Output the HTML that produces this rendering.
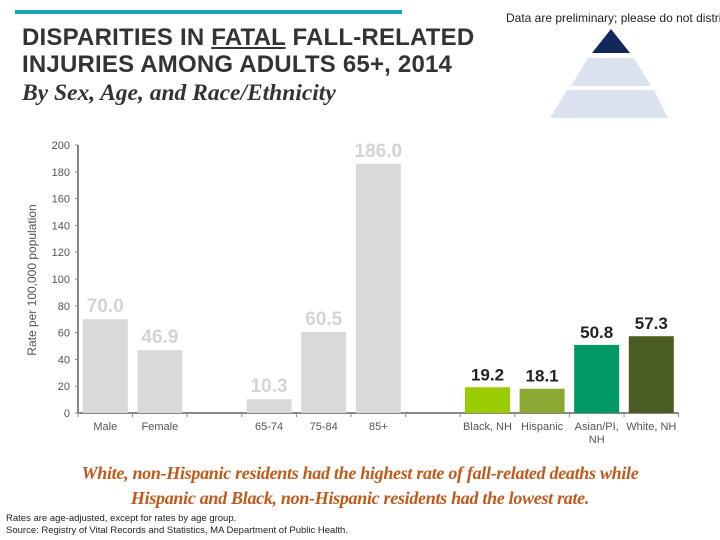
<!DOCTYPE html>
<html><head><meta charset="utf-8"><style>
body{margin:0;width:720px;height:540px;background:#fff;overflow:hidden;position:relative;font-family:"Liberation Sans",sans-serif}
.a{position:absolute}
</style></head><body>
<div class="a" style="left:15px;top:10px;width:387px;height:4px;background:#1aa3b8"></div>
<div class="a" style="left:22px;top:24px;font-size:24px;font-weight:bold;letter-spacing:0.2px;line-height:27px;color:#333;white-space:nowrap">DISPARITIES IN <u>FATAL</u> FALL-RELATED<br>INJURIES AMONG ADULTS 65+, 2014</div>
<div class="a" style="left:22px;top:80px;font-size:23.5px;font-weight:bold;font-family:'Liberation Serif',serif;font-style:italic;color:#333;white-space:nowrap">By Sex, Age, and Race/Ethnicity</div>
<div class="a" style="left:506px;top:11px;font-size:12px;color:#222;white-space:nowrap">Data are preliminary; please do not distri</div>
<svg class="a" style="left:0;top:0" width="720" height="540">
<polygon points="611,29 592,53 630,53" fill="#13285a"/>
<polygon points="588,58 634,58 651,86 571,86" fill="#dbe3ef"/>
<polygon points="567,90 654,90 668,118 550,118" fill="#dbe3ef"/>
</svg>
<svg id="chart" class="a" style="left:0;top:0" width="720" height="540"></svg>
<div class="a" style="left:0;top:461px;width:720px;text-align:center;font-family:'Liberation Serif',serif;font-style:italic;font-weight:bold;font-size:18px;letter-spacing:-0.3px;line-height:25px;color:#c05a1a">White, non-Hispanic residents had the highest rate of fall-related deaths while<br>Hispanic and Black, non-Hispanic residents had the lowest rate.</div>
<div class="a" style="left:6px;top:513px;font-size:9.5px;line-height:12px;color:#222">Rates are age-adjusted, except for rates by age group.<br>Source: Registry of Vital Records and Statistics, MA Department of Public Health.</div>
<script>
const categories=["Male","Female","","65-74","75-84","85+","","Black, NH","Hispanic","Asian/PI, NH","White, NH"];
const values=[70.0,46.9,null,10.3,60.5,186.0,null,19.2,18.1,50.8,57.3];
const labels=["70.0","46.9","","10.3","60.5","186.0","","19.2","18.1","50.8","57.3"];
const colors=["#d9d9d9","#d9d9d9","","#d9d9d9","#d9d9d9","#d9d9d9","","#99cc00","#8aa832","#009966","#4a5e23"];
const yTicks=[0,20,40,60,80,100,120,140,160,180,200];
const NS="http://www.w3.org/2000/svg",svg=document.getElementById('chart');
const x0=78,slot=54.6,yb=413,yt=145;
const y=v=>yb-(v/200)*(yb-yt);
function mk(t,a,p){const e=document.createElementNS(NS,t);for(const k in a)e.setAttribute(k,a[k]);(p||svg).appendChild(e);return e;}
let ax=mk('line',{x1:x0,y1:yt,x2:x0,y2:yb,stroke:'#888','stroke-width':2});

let bx=mk('line',{x1:x0,y1:yb,x2:x0+slot*11,y2:yb,stroke:'#888','stroke-width':2});

yTicks.forEach(t=>{
 mk('line',{x1:x0-3,y1:y(t),x2:x0,y2:y(t),stroke:'#888'});
 let tx=mk('text',{x:x0-8,y:y(t)+4,'text-anchor':'end','font-size':11,fill:'#555'});tx.textContent=t;
 
});
for(let i=0;i<=11;i++)mk('line',{x1:x0+i*slot,y1:yb,x2:x0+i*slot,y2:yb+4,stroke:'#888'});
let yl=mk('text',{x:36,y:280,transform:'rotate(-90 36 280)','text-anchor':'middle','font-size':12,fill:'#555'});yl.textContent='Rate per 100,000 population';

categories.forEach((c,i)=>{
 const cx=x0+slot*i+slot/2;
 if(values[i]!==null){
  let r=mk('rect',{x:cx-22.5,y:y(values[i]),width:45,height:yb-y(values[i]),fill:colors[i]});
  
  const gray=colors[i]=="#d9d9d9";
  let l=mk('text',{x:cx,y:y(values[i])-7,'text-anchor':'middle','font-size':gray?19:17,'font-weight':'bold',fill:gray?'#d4d4d4':'#222'});l.textContent=labels[i];
  
 }
 const parts=c.startsWith('Asian')?["Asian/PI,","NH"]:[c];
 parts.forEach((p,j)=>{let t=mk('text',{x:cx,y:430+j*13,'text-anchor':'middle','font-size':11,fill:'#555'});t.textContent=p;
 });
});
</script>
</body></html>
